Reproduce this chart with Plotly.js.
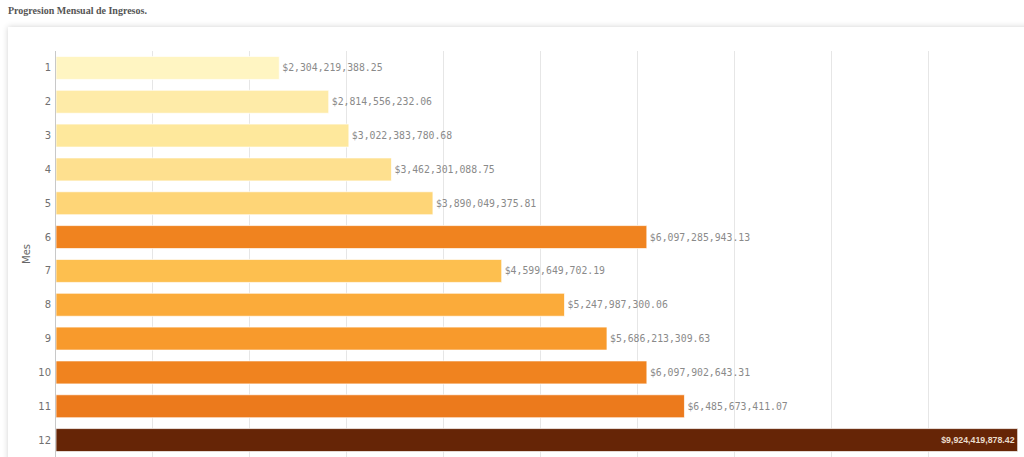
<!DOCTYPE html>
<html>
<head>
<meta charset="utf-8">
<script src="https://cdn.plot.ly/plotly-3.0.1.min.js"></script>
<style>
  html, body { margin:0; padding:0; width:1024px; height:457px; overflow:hidden; background:#ffffff; }
  #card { position:absolute; left:8px; top:27px; width:1040px; height:460px; background:#fff;
          box-shadow: 0 0 6px rgba(0,0,0,0.18); }
  #chart { position:absolute; left:0; top:0; }
</style>
</head>
<body>
<div id="card"></div>
<div id="chart"></div>
<script>
const months = ["1","2","3","4","5","6","7","8","9","10","11","12"];
const revenue = [2304219388.25, 2814556232.06, 3022383780.68, 3462301088.75, 3890049375.81,
                 6097285943.13, 4599649702.19, 5247987300.06, 5686213309.63, 6097902643.31,
                 6485673411.07, 9924419878.42];
const barColors = ["#fff5c2","#feeba8","#fee89c","#fee08f","#fed577","#f0831f",
                   "#fdbf4f","#fbab3a","#f89a2c","#f0831f","#ec7a1c","#662506"];
const labelPositions = ["outside","outside","outside","outside","outside","outside",
                        "outside","outside","outside","outside","outside","inside"];

const trace = {
  type: "bar",
  orientation: "h",
  y: months,
  x: revenue,
  width: 0.68,
  marker: { color: barColors, line: { color: "rgba(255,255,255,0.7)", width: 1 } },
  texttemplate: "$%{x:,.2f}",
  textposition: labelPositions,
  insidetextanchor: "end",
  outsidetextfont: { family: "DejaVu Sans Mono, monospace", size: 9.8, color: "#8a8a8a" },
  insidetextfont: { family: "Liberation Sans, Arial, sans-serif", size: 8.8, color: "#eadccc", weight: "bold" },
  cliponaxis: false,
  hoverinfo: "none"
};

const layout = {
  width: 1040,
  height: 500,
  margin: { l: 56, r: 15, t: 51, b: 43 },
  paper_bgcolor: "rgba(0,0,0,0)",
  plot_bgcolor: "rgba(0,0,0,0)",
  showlegend: false,
  title: {
    text: "<b>Progresion Mensual de Ingresos.</b>",
    font: { family: "Liberation Serif, DejaVu Serif, serif", size: 10, color: "#555555" },
    x: 8 / 1040, xanchor: "left", xref: "container",
    y: 1 - 10 / 500, yanchor: "middle", yref: "container"
  },
  xaxis: {
    range: [0, 10000000000],
    dtick: 1000000000,
    showgrid: true,
    gridcolor: "#e6e6e6",
    gridwidth: 1,
    zeroline: false,
    showline: true,
    linecolor: "#d8d8d8",
    showticklabels: false,
    fixedrange: true
  },
  yaxis: {
    type: "category",
    autorange: "reversed",
    showgrid: false,
    zeroline: false,
    showline: true,
    linecolor: "#c8c8c8",
    linewidth: 1,
    ticks: "",
    ticklabelstandoff: 2,
    tickfont: { family: "DejaVu Sans, sans-serif", size: 10, color: "#707070" },
    title: { text: "Mes", font: { family: "DejaVu Sans, sans-serif", size: 10, color: "#666666" }, standoff: 5 },
    fixedrange: true
  },
  bargap: 0.32
};

Plotly.newPlot("chart", [trace], layout, { staticPlot: true, displayModeBar: false });
</script>
</body>
</html>
